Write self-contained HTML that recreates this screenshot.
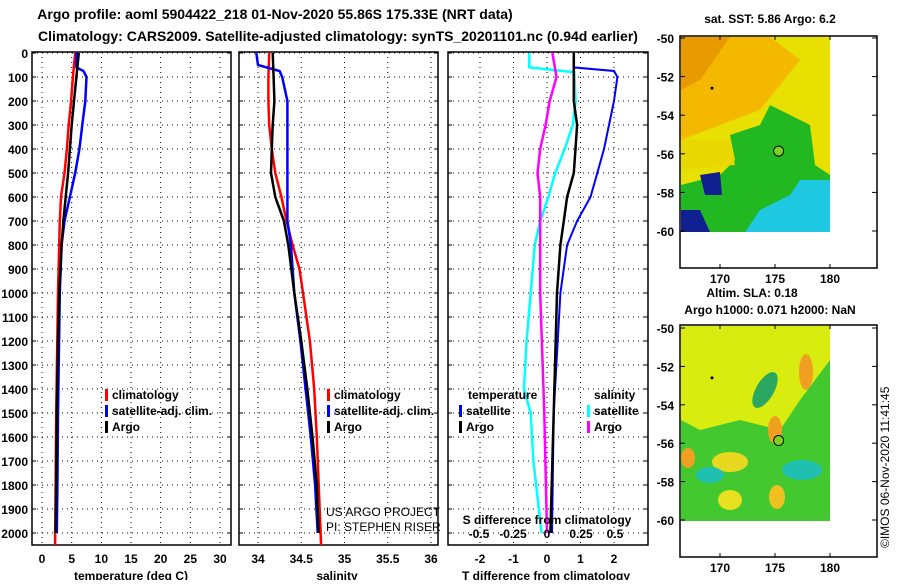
<!DOCTYPE html>
<html><head><meta charset="utf-8"><style>
body{margin:0;background:#fff;width:900px;height:580px;overflow:hidden}
svg{font-family:"Liberation Sans",sans-serif;font-weight:bold}
</style></head><body>
<svg id="c" width="900" height="580" xmlns="http://www.w3.org/2000/svg">
<text x="275" y="19" font-size="14" text-anchor="middle">Argo profile: aoml 5904422_218 01-Nov-2020 55.86S 175.33E (NRT data)</text>
<text x="338" y="41" font-size="14" text-anchor="middle">Climatology: CARS2009. Satellite-adjusted climatology: synTS_20201101.nc (0.94d earlier)</text>
<g id="maps"></g>
</svg>
<script>
const depthTicks=[0,100,200,300,400,500,600,700,800,900,1000,1100,1200,1300,1400,1500,1600,1700,1800,1900,2000];
const tempTicks=[0,5,10,15,20,25,30];
const salTicks=[34,34.5,35,35.5,36];
const tdTicks=[-2,-1,0,1,2];
const sdTicks=[-0.5,-0.25,0,0.25,0.5];
const sdTickLabels=['-0.5','-0.25','0','0.25','0.5'];
// temperature profiles
const tArgoD=[0,100,200,300,400,500,600,700,800,900,1000,1200,1500,1800,2000];
const tArgo=[6.2,5.8,5.4,5.0,4.7,4.4,4.0,3.6,3.3,3.1,2.9,2.7,2.5,2.4,2.3];
const tClimD=[0,100,200,300,400,500,600,700,800,1000,1500,2050];
const tClim=[5.6,5.2,4.9,4.5,4.2,3.8,3.2,3.0,2.9,2.7,2.4,2.2];
const tSatD=[0,60,75,100,200,300,400,500,600,700,800,1000,1500,1800,2000];
const tSat=[5.8,5.8,7.0,7.5,7.3,6.8,6.3,5.6,4.7,3.8,3.3,3.0,2.7,2.6,2.5];
// salinity profiles
const sArgoD=[0,100,200,300,400,500,600,700,800,1000,1200,1400,1600,1800,2000];
const sArgo=[34.17,34.18,34.19,34.17,34.16,34.15,34.2,34.3,34.35,34.42,34.5,34.57,34.63,34.68,34.7];
const sClimD=[0,100,200,300,400,500,600,700,800,900,1000,1200,1400,1600,2050];
const sClim=[34.13,34.12,34.12,34.13,34.16,34.2,34.27,34.33,34.4,34.48,34.52,34.6,34.65,34.68,34.73];
const sSatD=[0,50,75,100,200,300,400,500,600,700,800,1000,1200,1400,1600,1800,2000];
const sSat=[33.98,34.0,34.25,34.28,34.34,34.34,34.34,34.34,34.34,34.34,34.38,34.42,34.49,34.55,34.61,34.66,34.69];
// differences
const dTArgoD=[0,100,200,300,400,500,600,700,800,1000,1500,2000];
const dTArgo=[0.8,0.8,0.8,0.9,0.85,0.8,0.6,0.5,0.4,0.3,0.2,0.1];
const dTSatD=[0,60,75,100,200,300,400,500,600,700,800,1000,1500,2000];
const dTSat=[0.8,0.8,2.0,2.1,2.0,1.85,1.7,1.5,1.3,0.9,0.6,0.4,0.2,0.15];
const dSSatD=[0,60,80,200,300,400,500,600,700,800,1000,1200,1400,1500,1700,2000];
const dSSat=[-0.13,-0.13,0.2,0.21,0.19,0.13,0.06,0.01,-0.05,-0.09,-0.12,-0.15,-0.17,-0.12,-0.1,-0.04];
const dSArgoD=[0,100,200,300,400,500,600,1000,1500,2000];
const dSArgo=[0.04,0.07,0.02,-0.01,-0.05,-0.07,-0.05,-0.05,-0.02,0.0];

const NS='http://www.w3.org/2000/svg';
const svg=document.getElementById('c');
function mk(t,a,p){const e=document.createElementNS(NS,t);for(const k in a)e.setAttribute(k,a[k]);(p||svg).appendChild(e);return e;}
const Y0=53,YS=0.24,PT=52,PB=545;
const yD=d=>Y0+d*YS;
const panels=[
 {x0:32,x1:231,f:v=>42+v*(178/30)},
 {x0:239,x1:438,f:v=>258+(v-34)*86.5},
 {x0:448,x1:648,f:v=>547+v*33.5}];
const fS=v=>547+v*136;
panels.forEach((p,i)=>{
 const g=mk('g',{});
 
 
 const r=mk('rect',{x:p.x0,y:PT,width:p.x1-p.x0,height:PB-PT,fill:'none',stroke:'#000','stroke-width':1.5},g);
 
 
 depthTicks.forEach(d=>{
  const l=mk('line',{x1:p.x0,x2:p.x1,y1:yD(d),y2:yD(d),stroke:'#000','stroke-dasharray':'1,4'},g);
  
  
  mk('line',{x1:p.x0,x2:p.x0+4,y1:yD(d),y2:yD(d),stroke:'#000'},g);
  mk('line',{x1:p.x1-4,x2:p.x1,y1:yD(d),y2:yD(d),stroke:'#000'},g);
  if(i<1){const t=mk('text',{x:p.x0-4,y:yD(d)+5,'font-size':12,'text-anchor':'end'},g);t.textContent=d;
   
   }
 });
 const xt=i==0?tempTicks:i==1?salTicks:tdTicks;
 xt.forEach(v=>{
  const x=p.f(v);
  const l=mk('line',{x1:x,x2:x,y1:PT,y2:PB,stroke:'#000','stroke-dasharray':'1,4'},g);
  
  
  const t=mk('text',{x:x,y:563,'font-size':12,'text-anchor':'middle'},g);t.textContent=v;
  
  
 });
});
function prof(D,V,f,col,w,name){
 const pts=D.map((d,k)=>f(V[k]).toFixed(1)+','+yD(d).toFixed(1)).join(' ');
 const e=mk('polyline',{points:pts,fill:'none',stroke:col,'stroke-width':w});
 
 
}
const f0=panels[0].f,f1=panels[1].f,f2=panels[2].f;
prof(tClimD,tClim,f0,'#f00',2.5,'temp-climatology-line');
prof(tSatD,tSat,f0,'#00f',2.5,'temp-satellite-line');
prof(tArgoD,tArgo,f0,'#000',2.5,'temp-argo-line');
prof(sClimD,sClim,f1,'#f00',2.5,'sal-climatology-line');
prof(sSatD,sSat,f1,'#00f',2.5,'sal-satellite-line');
prof(sArgoD,sArgo,f1,'#000',2.5,'sal-argo-line');
prof(dSSatD,dSSat,fS,'#0ff',2.5,'sdiff-satellite-line');
prof(dSArgoD,dSArgo,fS,'#f0f',2.5,'sdiff-argo-line');
prof(dTSatD,dTSat,f2,'#00f',2,'tdiff-satellite-line');
prof(dTArgoD,dTArgo,f2,'#000',2.5,'tdiff-argo-line');
sdTicks.forEach((v,k)=>{const t=mk('text',{x:fS(v),y:538,'font-size':12,'text-anchor':'middle'});t.textContent=sdTickLabels[k];
 
 });
function txt(x,y,s,sz,anc,name,extra){const t=mk('text',Object.assign({x:x,y:y,'font-size':sz,'text-anchor':anc||'start'},extra||{}));t.textContent=s;
 
 return t;}
txt(131,580,'temperature (deg C)',12,'middle','x-axis-title-temperature');
txt(337,580,'salinity',12,'middle','x-axis-title-salinity');
txt(546,580,'T difference from climatology',12,'middle','x-axis-title-tdiff');
txt(547,524,'S difference from climatology',12,'middle','x-axis-title-sdiff');
function leg(x,y,col,s,name){mk('rect',{x:x,y:y-10,width:3,height:12,fill:col});txt(x+7,y,s,12,'start',name);}
leg(105,399,'#f00','climatology','legend-temp-climatology');
leg(105,415,'#00f','satellite-adj. clim.','legend-temp-satellite');
leg(105,431,'#000','Argo','legend-temp-argo');
leg(327,399,'#f00','climatology','legend-sal-climatology');
leg(327,415,'#00f','satellite-adj. clim.','legend-sal-satellite');
leg(327,431,'#000','Argo','legend-sal-argo');
txt(468,399,'temperature',12,'start','legend-temperature-heading');
leg(459,415,'#00f','satellite','legend-tdiff-satellite');
leg(459,431,'#000','Argo','legend-tdiff-argo');
txt(594,399,'salinity',12,'start','legend-salinity-heading');
leg(587,415,'#0ff','satellite','legend-sdiff-satellite');
leg(587,431,'#f0f','Argo','legend-sdiff-argo');
txt(326,516,'US ARGO PROJECT',12,'start','project-credit',{'font-weight':'normal'});
txt(326,531,'PI: STEPHEN RISER',12,'start','pi-credit',{'font-weight':'normal'});
txt(889,548,'©IMOS 06-Nov-2020 11:41:45',12,'start','imos-credit',{transform:'rotate(-90 889 548)','font-weight':'normal'});

// maps
const latTicks=[-50,-52,-54,-56,-58,-60];
const lonTicks=[170,175,180];
function map(top,lat50,lat60,title,paint){
 const g=mk('g',{});
 
 
 const yl=l=>lat50+(l+50)/-10*(lat60-lat50);
 const xl=l=>720+(l-170)*11;
 paint(g,yl,xl);
 mk('rect',{x:680,y:top,width:197,height:232,fill:'none',stroke:'#000','stroke-width':1.5},g);
 latTicks.forEach(l=>{const y=yl(l);mk('line',{x1:680,x2:685,y1:y,y2:y,stroke:'#000'},g);mk('line',{x1:872,x2:877,y1:y,y2:y,stroke:'#000'},g);
  const t=mk('text',{x:674,y:y+5,'font-size':12,'text-anchor':'end'},g);t.textContent=l;
  
  });
 lonTicks.forEach(l=>{const x=xl(l);mk('line',{x1:x,x2:x,y1:top,y2:top+4,stroke:'#000'},g);mk('line',{x1:x,x2:x,y1:top+228,y2:top+232,stroke:'#000'},g);
  const t=mk('text',{x:x,y:top+247,'font-size':12,'text-anchor':'middle'},g);t.textContent=l;
  
  });
 mk('circle',{cx:xl(175.33),cy:yl(-55.86),r:5,fill:'#7ed321',stroke:'#000'},g);
 mk('circle',{cx:712,cy:yl(-52.6),r:1.5,fill:'#000'},g);
}
map(36,38,231,'sst-map',(g,yl,xl)=>{
 mk('rect',{x:681,y:37,width:149,height:195,fill:'#e8e000'},g);
 mk('polygon',{points:'681,37 770,37 800,60 760,110 720,125 681,140',fill:'#f5b800'},g);
 mk('polygon',{points:'681,37 730,37 700,80 681,90',fill:'#e89a00'},g);
 mk('polygon',{points:'730,135 760,125 770,105 790,115 810,125 815,165 830,175 830,232 681,232 681,185 720,175 735,160',fill:'#22b822'},g);
 mk('polygon',{points:'800,180 830,180 830,232 745,232 760,210 790,195',fill:'#1ec8e0'},g);
 mk('polygon',{points:'681,210 700,210 710,232 681,232',fill:'#102090'},g);
 mk('polygon',{points:'700,175 720,172 722,195 705,195',fill:'#102090'},g);
 mk('polygon',{points:'681,140 730,140 735,165 681,170',fill:'#e8d800'},g);
});
map(325,328,520,'sla-map',(g,yl,xl)=>{
 mk('rect',{x:681,y:326,width:149,height:195,fill:'#44c830'},g);
 mk('polygon',{points:'681,326 830,326 830,360 800,400 780,430 740,420 700,430 681,420',fill:'#d8ec10'},g);
 mk('ellipse',{cx:765,cy:390,rx:9,ry:20,fill:'#2aa860',transform:'rotate(30 765 390)'},g);
 mk('ellipse',{cx:806,cy:372,rx:7,ry:18,fill:'#f0a020'},g);
 mk('ellipse',{cx:775,cy:430,rx:7,ry:14,fill:'#f0a020'},g);
 mk('ellipse',{cx:688,cy:458,rx:7,ry:10,fill:'#f0a020'},g);
 mk('ellipse',{cx:730,cy:462,rx:18,ry:10,fill:'#e8d820'},g);
 mk('ellipse',{cx:710,cy:475,rx:14,ry:8,fill:'#20c0b0'},g);
 mk('ellipse',{cx:802,cy:470,rx:20,ry:10,fill:'#20c0b0'},g);
 mk('ellipse',{cx:777,cy:497,rx:8,ry:12,fill:'#f0c020'},g);
 mk('ellipse',{cx:730,cy:500,rx:12,ry:10,fill:'#e8e020'},g);
});
txt(770,23,'sat. SST: 5.86 Argo: 6.2',12,'middle','sst-map-title');
txt(752,297,'Altim. SLA: 0.18',12,'middle','sla-map-title');
txt(770,314,'Argo h1000: 0.071 h2000: NaN',12,'middle','steric-height-title');
</script>
</body></html>
